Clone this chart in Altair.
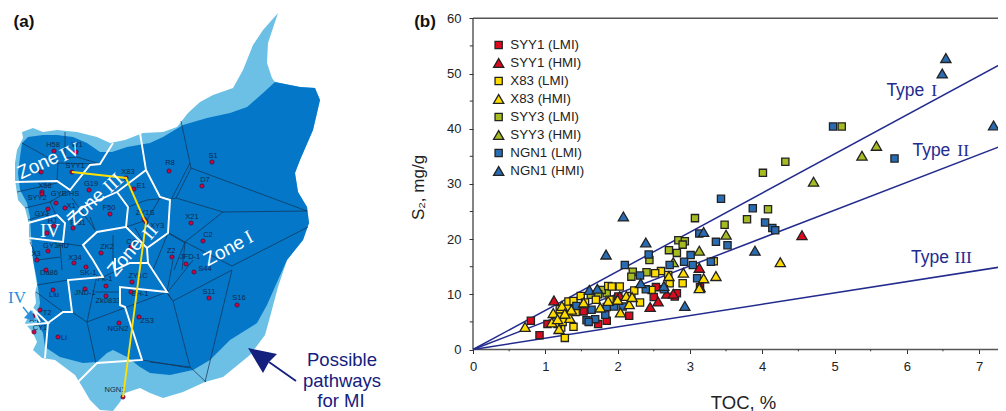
import altair as alt
import pandas as pd

FONT = "Liberation Sans"
SERIF = "Liberation Serif"

# ---------- panel (b) data: TOC %, S2 mg/g ----------
syy1_lmi_x = [.80, .92, 1.03, 1.53, 1.73, 1.85, 2.16, 2.01, 2.50, 2.53, 2.79, 2.82, 3.14]
syy1_lmi_y = [5.2, 2.6, 4.6, 6.9, 4.6, 5.2, 6.1, 9.6, 9.5, 11.3, 9.6, 10.2, 11.3]
syy1_hmi_x = [1.12, 2.45, 2.56, 2.68, 2.77, 3.13, 3.14, 4.55, 2.03]
syy1_hmi_y = [8.9, 7.7, 8.7, 10.1, 10.1, 14.8, 11.3, 20.7, 9.7]
x83_lmi_x = [1.27, 1.39, 1.22, 1.17, 1.2, 1.24, 1.30, 1.20, 1.32, 1.39, 1.49, 1.87, 1.92, 2.03, 1.89, 2.19, 2.23, 2.31, 2.47, 2.60, 2.52, 2.70, 2.72, 2.90, 3.33, 1.55, 1.70, 1.42]
x83_lmi_y = [2.1, 4.1, 4.0, 4.6, 6.0, 5.0, 7.5, 7.3, 8.7, 8.8, 9.7, 11.5, 11.4, 11.4, 9.0, 9.7, 10.7, 8.5, 10.8, 14.2, 13.8, 13.5, 12.0, 12.0, 16.0, 8.5, 9.0, 6.8]
x83_hmi_x = [.72, 1.09, 1.19, 1.11, 1.23, 1.17, 1.34, 1.36, 1.27, 1.53, 1.76, 2.0, 2.12, 2.16, 2.04, 1.87, 2.2, 2.91, 2.71, 3.19, 3.36, 3.13, 4.25]
x83_hmi_y = [4.1, 4.9, 3.7, 6.6, 7.9, 5.5, 5.7, 7.2, 6.5, 8.5, 7.6, 9.0, 9.7, 8.2, 6.7, 8.8, 9.5, 13.9, 13.3, 12.9, 13.3, 11.1, 15.8]
syy3_lmi_x = [4.01, 3.07, 3.48, 4.08, 3.79, 4.32, 5.10, 2.84, 2.93, 2.90, 2.71, 2.82, 2.44, 2.21, 2.19, 2.40, 1.85, 1.78, 1.73, 1.63, 1.32]
syy3_lmi_y = [32.0, 23.8, 22.6, 25.4, 23.6, 34.0, 40.4, 19.8, 19.6, 19.0, 18.0, 17.5, 16.2, 14.1, 13.2, 14.0, 10.2, 10.8, 10.0, 9.9, 7.5]
syy3_hmi_x = [3.50, 3.13, 2.77, 4.71, 5.38, 5.58, 1.27]
syy3_hmi_y = [20.8, 17.9, 15.8, 30.4, 35.1, 36.9, 6.2]
ngn1_lmi_x = [3.43, 3.87, 4.04, 4.14, 4.18, 3.36, 3.52, 3.13, 3.01, 3.04, 3.29, 3.10, 2.10, 2.43, 2.92, 2.72, 2.31, 2.39, 2.64, 1.43, 1.64, 1.85, 1.95, 2.07, 1.83, 1.69, 1.57, 1.60, 4.98, 5.83]
ngn1_lmi_y = [27.3, 25.6, 23.0, 22.0, 21.6, 19.5, 18.9, 21.0, 17.1, 15.3, 15.9, 12.9, 15.3, 17.2, 15.9, 15.3, 13.4, 10.9, 10.9, 7.9, 7.2, 7.7, 7.8, 7.8, 6.3, 5.5, 5.3, 5.0, 40.4, 34.6]
ngn1_hmi_x = [2.08, 2.39, 1.84, 3.19, 1.61, 1.72, 2.32, 2.64, 2.93, 3.90, 6.54, 6.49, 7.20]
ngn1_hmi_y = [24.1, 19.4, 17.2, 21.3, 10.8, 11.0, 12.0, 11.5, 7.9, 17.9, 52.8, 50.0, 40.6]

legend_order = ["SYY1 (LMI)", "SYY1 (HMI)", "X83 (LMI)", "X83 (HMI)", "SYY3 (LMI)", "SYY3 (HMI)", "NGN1 (LMI)", "NGN1 (HMI)"]
fills = ["#dc0a1e", "#dc0a1e", "#ffdc00", "#ffdc00", "#a6ba22", "#a6ba22", "#2a6cb2", "#2a6cb2"]
outlines = ["#222222"] * 8
shapes = ["square", "triangle-up"] * 4
sizes = [52, 105] * 4
draw_order = [
    ("SYY3 (LMI)", syy3_lmi_x, syy3_lmi_y), ("SYY3 (HMI)", syy3_hmi_x, syy3_hmi_y),
    ("SYY1 (LMI)", syy1_lmi_x, syy1_lmi_y), ("SYY1 (HMI)", syy1_hmi_x, syy1_hmi_y),
    ("X83 (LMI)", x83_lmi_x, x83_lmi_y), ("NGN1 (LMI)", ngn1_lmi_x, ngn1_lmi_y),
    ("X83 (HMI)", x83_hmi_x, x83_hmi_y), ("NGN1 (HMI)", ngn1_hmi_x, ngn1_hmi_y),
]

type_lines = {"Type I": [7.37, 52.2], "Type II": [7.37, 37.2], "Type III": [7.37, 15.1]}
x_major = [0, 1, 2, 3, 4, 5, 6, 7]
x_minor = [.5, 1.5, 2.5, 3.5, 4.5, 5.5, 6.5]
y_major = [0, 10, 20, 30, 40, 50, 60]
y_minor = [5, 15, 25, 35, 45, 55]

# ---------- panel (a) data: map sketch, image pixel positions ----------
light_area = [(278,13),(263,30),(253,45),(243,70),(233,88),(213,95),(200,102),(188,113),(177,127),(163,132),(143,133),(125,140),(110,143),(97,137),(77,132),(57,130),(43,132),(33,128),(22,132),(23,138),(17,150),(15,163),(15,180),(18,200),(25,208),(28,220),(28,237),(32,245),(33,260),(35,273),(37,285),(35,293),(36,303),(32,310),(25,323),(33,333),(37,342),(33,350),(42,358),(55,360),(75,375),(83,388),(90,400),(100,410),(113,411),(120,402),(125,393),(140,388),(150,393),(163,398),(183,392),(205,382),(223,377),(250,355),(265,335),(270,317),(278,287),(287,260),(303,240),(309,223),(307,207),(298,192),(295,173),(300,160),(313,130),(320,100),(315,88),(300,87),(275,82),(272,78),(267,63),(268,43)]
dark_area = [(275,82),(263,93),(247,107),(230,113),(207,118),(183,125),(163,137),(150,143),(127,147),(112,152),(100,152),(87,143),(73,137),(57,135),(43,135),(28,137),(22,143),(20,157),(18,173),(20,190),(27,203),(30,217),(31,235),(33,260),(36,275),(38,287),(40,303),(37,317),(37,323),(43,333),(45,347),(60,357),(83,363),(97,362),(107,353),(113,350),(127,357),(140,367),(150,373),(170,375),(193,370),(210,360),(230,340),(257,323),(267,305),(278,280),(287,260),(303,240),(309,223),(307,207),(298,192),(295,173),(300,160),(313,130),(320,100),(315,88),(300,87)]
cell_lines = [
    [(181,121),(191,168),(307,211)], [(191,168),(176,198),(170,199)], [(176,198),(223,212),(307,211)],
    [(223,212),(185,242),(169,233)], [(185,242),(232,266),(308,227)], [(185,242),(174,270)],
    [(232,270),(173,301),(167,293)], [(232,270),(205,382)], [(173,301),(190,367),(206,382)], [(150,362),(190,367)],
    [(193,260),(167,293)], [(37,285),(68,280)], [(36,292),(63,312)], [(72,312),(87,322),(96,363)],
    [(87,322),(167,292),(172,300)], [(97,275),(87,322)], [(95,292),(120,292)], [(103,277),(118,270)],
    [(173,260),(167,292)], [(22,143),(58,163),(57,180)], [(65,132),(65,158)], [(58,163),(100,164)],
    [(17,192),(57,183)], [(53,200),(50,202),(25,208)], [(28,220),(50,213)], [(50,202),(56,215)], [(70,190),(50,202)],
    [(72,198),(95,230)], [(90,217),(95,230)], [(60,243),(82,246)], [(30,242),(38,260),(60,257)], [(60,243),(62,270)],
    [(128,207),(147,200),(167,198)], [(126,227),(147,220),(160,198)], [(135,228),(147,248)], [(168,233),(185,243),(182,270)],
    [(168,233),(153,270)], [(113,235),(113,260)], [(142,360),(190,368)], [(190,163),(172,198)], [(100,164),(77,157),(65,158)],
]
white_lines = [
    [(113,143),(100,164),(90,165),(70,190),(57,181),(15,182)],
    [(28,223),(57,215),(65,223),(63,242),(28,238),(28,223)],
    [(140,133),(146,170),(117,192),(83,207),(68,220)],
    [(117,192),(128,207),(126,227),(97,232),(83,245),(93,260),(103,277),(68,280),(72,312),(63,312),(48,323),(45,358)],
    [(146,170),(160,197),(170,200),(168,233),(147,248),(126,227)],
    [(147,248),(148,263),(167,292),(120,287),(120,305),(125,307),(142,360),(97,363),(73,387)],
    [(115,258),(115,270),(130,263),(148,263)],
    [(25,325),(48,323),(32,308),(40,322)],
]
pathway = [(72,172),(126,178),(144,219),(146,222),(123,397)]
big_arrow_head = [(248,348),(263,373),(269,362),(277,354)]
big_arrow_tail = [(269,362),(296,381)]
small_arrow_tail = [(23,307),(31,317)]
small_arrow_head = [(35,321),(24,318),(31,310)]

wells = [
    ("H58",54,151,53,145),("W1",76,152,77,145),("SYY1",72,172,75,166),("",41,172,41,166),("X83",126,178,128,172),
    ("G19",89,190,91,184),("E1",134,189,141,186),("X58",42,192,45,186),("SYY2",42,194,37,198),("GYB/HS",56,203,65,194),
    ("GY1",48,209,42,214),("X1",65,208,71,206),("F50",110,214,109,208),("ZY1S",144,219,145,213),("XY3",146,222,157,226),
    ("X21",191,223,192,217),("R8",169,171,170,163),("HJ",54,226,52,221),("",47,233,47,233),("F-31",73,228,78,223),
    ("GY3HU",48,251,56,246),("ZK2",101,253,107,247),("C4",131,247,131,242),("Z2",172,257,171,251),("JFD-1",186,264,190,257),
    ("X3",37,260,36,254),("X34",74,263,75,258),("S1",212,162,213,156),("D7",202,186,205,180),("C2",203,241,208,235),
    ("S44",194,272,205,269),("S11",209,298,209,292),("S16",237,305,239,298),("Da86",46,270,49,273),("SK-1",86,267,88,273),
    ("Liu",53,290,54,295),("JND-1",85,289,85,293),("Fk-1",106,286,105,279),("ZY1C",132,282,138,276),("BH-1",131,292,140,294),
    ("Zk0833",106,296,108,301),("T2",40,310,47,313),("A-1",33,316,35,320),("CY1",34,332,40,328),("Li",58,337,64,338),
    ("NGN2",119,323,118,329),("ZS3",139,317,147,321),("NGN1",123,397,115,390),
]
zone_sans = [("Zone",38,165,-25),("Zone",86,207,-43),("Zone",125,257,-50),("Zone",224,251,-28)]
zone_serif = [("IV",70,152,-25),("III",113,183,-43),("II",150,232,-50),("I",249,237,-28),("IV",50,231,0)]
pathway_text = [("Possible",342,360,0),("pathways",342,381,0),("for MI",341,401,0)]
panel_text = [("(a)",24,22,0),("(b)",425,22,0)]
iv_label = [("IV",17,298,0)]

# ---------- helpers ----------
identity = dict(type="identity", scale=1, translate=[-8, -8])

def shape_layer(geoms, **mark):
    feats = [{"type": "Feature", "properties": {}, "geometry": g} for g in geoms]
    return alt.Chart(alt.InlineData(values={"type": "FeatureCollection", "features": feats},
                                    format=alt.DataFormat(type="json", property="features"))
                     ).mark_geoshape(**mark).project(**identity)

def polygon(pts):
    ring = [list(p) for p in pts] + [list(pts[0])]
    return {"type": "Polygon", "coordinates": [ring]}

def polyline(pts):
    return {"type": "LineString", "coordinates": [list(p) for p in pts]}

def map_text(rows, color, size, font=FONT, weight="normal"):
    df = pd.DataFrame(rows, columns=["t", "lon", "lat", "a"])
    df["a"] = (df["a"] + 360) % 360
    return alt.Chart(df).mark_text(color=color, fontSize=size, font=font, fontWeight=weight,
                                   align="center", baseline="middle").encode(
        longitude="lon:Q", latitude="lat:Q", text="t:N",
        angle=alt.Angle("a:Q", scale=None)).project(**identity)

# ---------- scales for panel (b): the full canvas is one plot ----------
CANVAS_W = 990
CANVAS_H = 403
x_scale = alt.Scale(domain=[(8 - 473) / 72.3, (8 + CANVAS_W - 473) / 72.3], nice=False, zero=False)
y_scale = alt.Scale(domain=[(349.5 - 8 - CANVAS_H) / 5.52, (349.5 - 8) / 5.52], nice=False, zero=False)
x_axis = alt.Axis(values=x_major, offset=349.5 - 8 - CANVAS_H, domain=False, grid=False, tickSize=4, tickColor="#333",
                  labelFontSize=13, labelColor="#222", labelFont=FONT, labelPadding=7, format="d",
                  title="TOC, %", titleFont=FONT, titleFontSize=18.5, titleFontWeight="normal", titleColor="#222",
                  titleX=735, titleY=52.5, titleAnchor="middle", titleBaseline="middle")
y_axis = alt.Axis(values=y_major, offset=-465, domain=False, grid=False, tickSize=4, tickColor="#333",
                  labelFontSize=13, labelColor="#222", labelFont=FONT, labelPadding=8, format="d",
                  title="S₂, mg/g", titleFont=FONT, titleFontSize=17, titleFontWeight="normal", titleColor="#222",
                  titleX=-55, titleY=179, titleAngle=-90, titleAnchor="middle", titleBaseline="middle")
X = alt.X("x:Q", scale=x_scale, axis=x_axis, title="TOC, %")
Y = alt.Y("y:Q", scale=y_scale, axis=y_axis, title="S₂, mg/g")

rows = []
for name, xs, ys in draw_order:
    for a, b in zip(xs, ys):
        rows.append({"x": a, "y": b, "series": name})
points_df = pd.DataFrame(rows)

line_rows = []
for name, (ex, ey) in type_lines.items():
    line_rows += [{"x": 0, "y": 0, "k": name}, {"x": ex, "y": ey, "k": name}]
lines_df = pd.DataFrame(line_rows)

legend = alt.Legend(orient="none", legendX=484, legendY=29.5, title=None, labelFont=FONT, labelFontSize=13.3,
                    labelColor="#222", symbolStrokeWidth=1.3, rowPadding=3,
                    labelOffset=5, symbolOpacity=1, symbolLimit=8, labelLimit=120, clipHeight=15)

scatter = alt.Chart(points_df).mark_point(filled=True, opacity=1, strokeWidth=1.3).encode(
    x=X, y=Y,
    fill=alt.Fill("series:N", scale=alt.Scale(domain=legend_order, range=fills), legend=legend),
    stroke=alt.Stroke("series:N", scale=alt.Scale(domain=legend_order, range=outlines), legend=legend),
    shape=alt.Shape("series:N", scale=alt.Scale(domain=legend_order, range=shapes), legend=legend),
    size=alt.Size("series:N", scale=alt.Scale(type="ordinal", domain=legend_order, range=sizes), legend=legend),
)
type_layer = alt.Chart(lines_df).mark_line(color="#232c8e", strokeWidth=1.5).encode(x=X, y=Y, detail="k:N")

frame_h = pd.DataFrame({"x": [0, 0], "x2": [7.37, 7.37], "y": [0, 60]})
frame_v = pd.DataFrame({"x": [0], "y": [0], "y2": [60]})
minor_x = pd.DataFrame({"x": x_minor, "y": [0] * len(x_minor), "y2": [-0.33] * len(x_minor)})
minor_y = pd.DataFrame({"x": [-0.045] * len(y_minor), "x2": [0] * len(y_minor), "y": y_minor})
rule_h = alt.Chart(frame_h).mark_rule(color="#555", strokeWidth=1.4).encode(x=X, x2="x2:Q", y=Y)
rule_v = alt.Chart(frame_v).mark_rule(color="#333", strokeWidth=1.2).encode(x=X, y=Y, y2="y2:Q")
tick_x = alt.Chart(minor_x).mark_rule(color="#333").encode(x=X, y=Y, y2="y2:Q")
tick_y = alt.Chart(minor_y).mark_rule(color="#333").encode(x=X, x2="x2:Q", y=Y)

type_labels = pd.DataFrame({"t": ["Type", "Type", "Type"], "x": [5.98, 6.34, 6.32], "y": [46.9, 36.0, 16.6]})
num_labels = pd.DataFrame({"t": ["I", "II", "III"], "x": [6.38, 6.78, 6.78], "y": [46.9, 36.0, 16.6]})
text_type = alt.Chart(type_labels).mark_text(color="#232c8e", fontSize=17.5, font=FONT, align="center", baseline="middle").encode(x=X, y=Y, text="t:N")
text_num = alt.Chart(num_labels).mark_text(color="#232c8e", fontSize=17.5, font=SERIF, align="center", baseline="middle").encode(x=X, y=Y, text="t:N")

# ---------- map layers ----------
well_df = pd.DataFrame(wells, columns=["t", "px", "py", "lx", "ly"])
well_pts = alt.Chart(well_df).mark_circle(size=18, color="#d6003f", opacity=1, stroke="#3a1030", strokeWidth=0.7).encode(
    longitude="px:Q", latitude="py:Q").project(**identity)
well_txt = alt.Chart(well_df).mark_text(color="#0e2a4a", fontSize=7.5, font=FONT, align="center", baseline="middle").encode(
    longitude="lx:Q", latitude="ly:Q", text="t:N").project(**identity)

layers = [
    shape_layer([polygon(light_area)], fill="#6cc0e6"),
    shape_layer([polygon(dark_area)], fill="#0477c9"),
    shape_layer([polyline(l) for l in cell_lines], filled=False, stroke="#12304f", strokeWidth=0.7),
    well_pts, well_txt,
    shape_layer([polyline(l) for l in white_lines], filled=False, stroke="#ffffff", strokeWidth=1.9),
    shape_layer([polyline(pathway)], filled=False, stroke="#ffe000", strokeWidth=1.9),
    map_text(zone_sans, "#ffffff", 19),
    map_text(zone_serif, "#ffffff", 19, font=SERIF),
    map_text(iv_label, "#2a8fd8", 17, font=SERIF),
    shape_layer([polyline(small_arrow_tail)], filled=False, stroke="#2a8fd8", strokeWidth=1.3),
    shape_layer([polygon(small_arrow_head)], fill="#2a8fd8"),
    shape_layer([polyline(big_arrow_tail)], filled=False, stroke="#14207e", strokeWidth=1.8),
    shape_layer([polygon(big_arrow_head)], fill="#14207e"),
    map_text(pathway_text, "#14207e", 18.5),
    map_text(panel_text, "#111111", 17, weight="bold"),
    rule_h, rule_v, tick_x, tick_y, type_layer, scatter, text_type, text_num,
]

chart = alt.layer(*layers).properties(
    width=CANVAS_W, height=CANVAS_H, padding=0, autosize=alt.AutoSizeParams(type="none"), background="#ffffff"
).configure_view(stroke=None)

chart.save("out.html", embed_options={"renderer": "svg", "actions": False})
